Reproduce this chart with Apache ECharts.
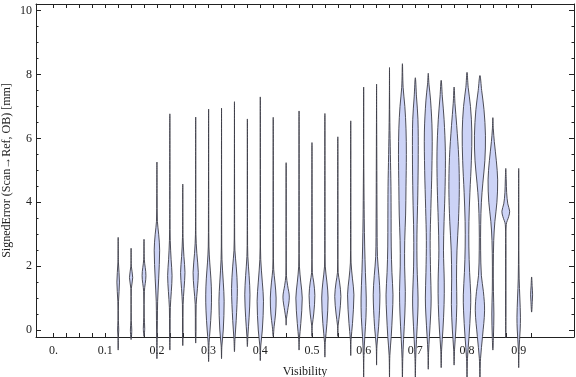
<!DOCTYPE html>
<html>
<head>
<meta charset="utf-8">
<script src="https://cdn.jsdelivr.net/npm/echarts@6/dist/echarts.min.js"></script>
<style>
  html, body { margin: 0; padding: 0; background: #fff; }
  #chart { width: 576px; height: 377px; }
</style>
</head>
<body>
<div id="chart"></div>
<script>
// ---- data ----
// violin centres on the Visibility axis
var violinX = [0.125, 0.15, 0.175, 0.2, 0.225, 0.25, 0.275, 0.3, 0.325, 0.35, 0.375,
  0.4, 0.425, 0.45, 0.475, 0.5, 0.525, 0.55, 0.575, 0.6, 0.625, 0.65, 0.675,
  0.7, 0.725, 0.75, 0.775, 0.8, 0.825, 0.85, 0.875, 0.9, 0.925];

// profile of each violin: [SignedError, relative density]
var violinProfiles = [
  [[-0.63,0],[-0.2,0.04],[0,0.1],[0.3,0.04],[0.9,0.06],[1.5,0.22],[2.1,0.05],[2.9,0]],
  [[-0.3,0],[0,0.12],[0.3,0.03],[1.3,0.04],[1.64,0.28],[2.0,0.04],[2.56,0]],
  [[-0.2,0],[0.05,0.12],[0.4,0.04],[1.2,0.06],[1.7,0.33],[2.2,0.06],[2.84,0]],
  [[-0.9,0],[-0.3,0.04],[0.3,0.08],[0.9,0.12],[1.6,0.3],[2.5,0.47],[3.0,0.3],[3.4,0.08],[4.2,0.03],[5.26,0]],
  [[-0.63,0],[0,0.05],[0.7,0.08],[1.2,0.25],[1.7,0.38],[2.2,0.22],[2.8,0.07],[3.5,0.03],[6.77,0]],
  [[-0.49,0],[0,0.05],[0.8,0.06],[1.3,0.22],[1.8,0.38],[2.3,0.2],[2.9,0.05],[4.57,0]],
  [[-0.41,0],[0,0.06],[0.8,0.08],[1.3,0.3],[1.8,0.45],[2.4,0.2],[3.0,0.04],[6.67,0]],
  [[-0.99,0],[-0.4,0.08],[0,0.25],[0.6,0.45],[1.1,0.5],[1.6,0.4],[2.1,0.2],[2.6,0.06],[3.5,0.03],[6.92,0]],
  [[-0.9,0],[-0.5,0.06],[0,0.3],[0.9,0.45],[1.5,0.3],[2.2,0.08],[3,0.03],[6.95,0]],
  [[-0.68,0],[-0.3,0.08],[0.3,0.3],[1.3,0.5],[2.0,0.3],[2.5,0.08],[3.2,0.03],[7.15,0]],
  [[-0.52,0],[-0.2,0.08],[0.4,0.3],[1.1,0.45],[1.7,0.3],[2.3,0.08],[3,0.03],[6.61,0]],
  [[-0.96,0],[-0.5,0.08],[0,0.35],[0.9,0.55],[1.5,0.35],[2.2,0.08],[3,0.03],[7.3,0]],
  [[-0.2,0],[0.1,0.15],[0.5,0.4],[1.0,0.5],[1.5,0.3],[1.9,0.08],[2.6,0.03],[6.66,0]],
  [[0.15,0],[0.35,0.05],[0.6,0.25],[1.03,0.55],[1.4,0.25],[1.7,0.05],[2.5,0.02],[5.24,0]],
  [[-0.63,0],[-0.3,0.06],[0.2,0.3],[1.0,0.55],[1.5,0.3],[2.0,0.06],[2.8,0.03],[6.86,0]],
  [[-0.2,0],[0.15,0.06],[0.5,0.3],[1.08,0.5],[1.5,0.3],[1.8,0.06],[2.6,0.03],[5.87,0]],
  [[-0.85,0],[-0.4,0.06],[0.2,0.35],[1.0,0.55],[1.5,0.35],[2.0,0.06],[2.8,0.03],[6.78,0]],
  [[-0.2,0],[0.15,0.06],[0.5,0.3],[1.05,0.53],[1.5,0.3],[1.8,0.06],[2.6,0.03],[6.05,0]],
  [[-0.8,0],[-0.3,0.06],[0.2,0.3],[1.1,0.55],[1.6,0.3],[2.1,0.06],[2.9,0.03],[6.55,0]],
  [[-1.49,0],[-0.8,0.05],[-0.2,0.2],[0.4,0.4],[1.0,0.45],[1.8,0.3],[2.6,0.18],[3.5,0.1],[4.6,0.05],[5.5,0.02],[7.61,0]],
  [[-1.1,0],[-0.5,0.06],[0.1,0.35],[1.1,0.58],[1.7,0.4],[2.3,0.15],[3.5,0.08],[5,0.05],[6.5,0.02],[7.7,0]],
  [[-1.49,0],[-0.8,0.06],[-0.2,0.3],[0.5,0.5],[1.1,0.6],[1.8,0.42],[2.6,0.3],[3.5,0.28],[4.5,0.25],[5.5,0.15],[6.5,0.06],[7.3,0.02],[8.22,0]],
  [[-1.55,0],[-0.9,0.06],[-0.3,0.2],[0.5,0.42],[1.2,0.5],[2.0,0.38],[2.8,0.4],[3.6,0.55],[4.5,0.62],[5.5,0.68],[6.3,0.62],[7.0,0.42],[7.6,0.12],[8.34,0]],
  [[-1.49,0],[-0.9,0.06],[-0.3,0.2],[0.5,0.42],[1.0,0.47],[2.0,0.3],[3.0,0.28],[4.2,0.42],[5.5,0.5],[6.6,0.45],[7.3,0.2],[7.9,0]],
  [[-1.23,0],[-0.7,0.06],[-0.2,0.2],[0.5,0.42],[1.0,0.5],[1.8,0.4],[2.8,0.33],[3.8,0.45],[5.0,0.62],[6.2,0.67],[7.2,0.4],[7.7,0.12],[8.04,0]],
  [[-1.18,0],[-0.6,0.08],[0,0.3],[0.8,0.5],[1.5,0.53],[2.5,0.4],[3.4,0.5],[4.5,0.68],[5.6,0.72],[6.6,0.5],[7.3,0.2],[7.82,0]],
  [[-1.1,0],[-0.6,0.08],[0,0.3],[0.8,0.47],[1.6,0.42],[2.5,0.5],[3.4,0.75],[4.4,0.9],[5.4,0.8],[6.4,0.45],[7.1,0.15],[7.61,0]],
  [[-1.55,0],[-0.9,0.08],[-0.2,0.35],[0.6,0.6],[1.1,0.64],[1.8,0.45],[2.6,0.32],[3.4,0.33],[4.3,0.5],[5.3,0.75],[6.2,0.83],[7.0,0.6],[7.6,0.2],[8.07,0]],
  [[-1.55,0],[-0.9,0.1],[-0.2,0.45],[0.6,0.8],[1.2,0.6],[1.7,0.25],[2.5,0.12],[3.3,0.13],[4.0,0.25],[4.6,0.5],[5.3,0.85],[6.1,0.95],[6.9,0.7],[7.5,0.3],[7.97,0]],
  [[-0.63,0],[-0.2,0.1],[0.5,0.18],[1.2,0.1],[2.0,0.08],[2.8,0.15],[3.4,0.35],[4.0,0.7],[4.7,0.83],[5.3,0.6],[5.9,0.25],[6.3,0.08],[6.65,0]],
  [[-0.25,0],[0.5,0.03],[1.5,0.03],[2.5,0.04],[3.3,0.08],[3.55,0.5],[3.72,0.67],[3.95,0.35],[4.3,0.15],[4.7,0.08],[5.06,0]],
  [[-1.18,0],[-0.6,0.06],[0,0.25],[0.4,0.3],[1.0,0.2],[1.6,0.08],[2.5,0.03],[4,0.02],[5.06,0]],
  [[0.56,0],[0.9,0.12],[1.1,0.17],[1.35,0.1],[1.66,0]]
];

// ticks and labels
var xLabelValues = [0, 0.1, 0.2, 0.3, 0.4, 0.5, 0.6, 0.7, 0.8, 0.9];
var xTickValues = [0, 0.025, 0.05, 0.075, 0.1, 0.125, 0.15, 0.175, 0.2, 0.225, 0.25, 0.275,
  0.3, 0.325, 0.35, 0.375, 0.4, 0.425, 0.45, 0.475, 0.5, 0.525, 0.55, 0.575, 0.6, 0.625,
  0.65, 0.675, 0.7, 0.725, 0.75, 0.775, 0.8, 0.825, 0.85, 0.875, 0.9, 0.925];
var yLabelValues = [0, 2, 4, 6, 8, 10];
var yMinorValues = [0, 0.5, 1, 1.5, 2, 2.5, 3, 3.5, 4, 4.5, 5, 5.5, 6, 6.5, 7, 7.5, 8, 8.5, 9, 9.5, 10];

// ---- style ----
var X_MIN = -0.034, X_MAX = 1.007;
var Y_MIN = -0.22, Y_MAX = 10.21;
var HALF_MAX = 0.0112;          // half-width (x units) at density 1
var FRAME = "#222";
var FONT = "'Liberation Serif', 'DejaVu Serif', serif";

function xAxisBase(pos) {
  return {
    type: "value", position: pos, min: X_MIN, max: X_MAX,
    axisLine: { show: true, onZero: false, lineStyle: { color: FRAME, width: 1 } },
    axisTick: { show: true, inside: true, length: 4, customValues: xTickValues, lineStyle: { color: FRAME } },
    axisLabel: { show: false },
    splitLine: { show: false }
  };
}
function yAxisBase(pos, ticks, len, showLine) {
  return {
    type: "value", position: pos, min: Y_MIN, max: Y_MAX,
    axisLine: { show: showLine, onZero: false, lineStyle: { color: FRAME, width: 1 } },
    axisTick: { show: true, inside: true, length: len, customValues: ticks, lineStyle: { color: FRAME } },
    axisLabel: { show: false },
    splitLine: { show: false }
  };
}

var chart = echarts.init(document.getElementById("chart"), null, { renderer: "canvas" });

var xBottom = xAxisBase("bottom");
xBottom.axisLabel = {
  show: true, customValues: xLabelValues, margin: 8,
  fontFamily: FONT, fontSize: 12, color: "#222",
  formatter: function (v) { return v === 0 ? "0." : String(v); }
};
xBottom.name = "Visibility";
xBottom.nameLocation = "middle";
xBottom.nameGap = 29;
xBottom.nameMoveOverlap = false;
xBottom.nameTextStyle = { fontFamily: FONT, fontSize: 12, color: "#222" };

var yLeft = yAxisBase("left", yLabelValues, 5, true);
yLeft.axisLabel = {
  show: true, customValues: yLabelValues, margin: 4,
  fontFamily: FONT, fontSize: 12, color: "#222"
};
yLeft.name = "SignedError (Scan\u2192Ref, OB) [mm]";
yLeft.nameLocation = "middle";
yLeft.nameGap = 23;
yLeft.nameMoveOverlap = false;
yLeft.nameTextStyle = { fontFamily: FONT, fontSize: 12, color: "#222" };

chart.setOption({
  animation: false,
  grid: { left: 36, right: 2, top: 4, bottom: 40, outerBoundsMode: "none", containLabel: false },
  xAxis: [xBottom, xAxisBase("top")],
  yAxis: [
    yLeft,
    yAxisBase("left", yMinorValues, 2.5, false),
    yAxisBase("right", yLabelValues, 5, true),
    yAxisBase("right", yMinorValues, 2.5, false)
  ],
  series: [{
    type: "custom",
    xAxisIndex: 0,
    yAxisIndex: 0,
    data: violinX.map(function (x, i) { return [i, x]; }),
    renderItem: function (params, api) {
      var idx = api.value(0);
      var cx = api.value(1);
      var prof = violinProfiles[idx];
      var pts = [];
      var i;
      for (i = 0; i < prof.length; i++) {
        pts.push(api.coord([cx + prof[i][1] * HALF_MAX, prof[i][0]]));
      }
      for (i = prof.length - 2; i >= 1; i--) {
        pts.push(api.coord([cx - prof[i][1] * HALF_MAX, prof[i][0]]));
      }
      return {
        type: "polygon",
        shape: { points: pts, smooth: 0.35 },
        style: { fill: "rgb(204,211,246)", stroke: "rgba(60,60,70,0.9)", lineWidth: 1 }
      };
    },
    z: 3
  }]
});
</script>
</body>
</html>
